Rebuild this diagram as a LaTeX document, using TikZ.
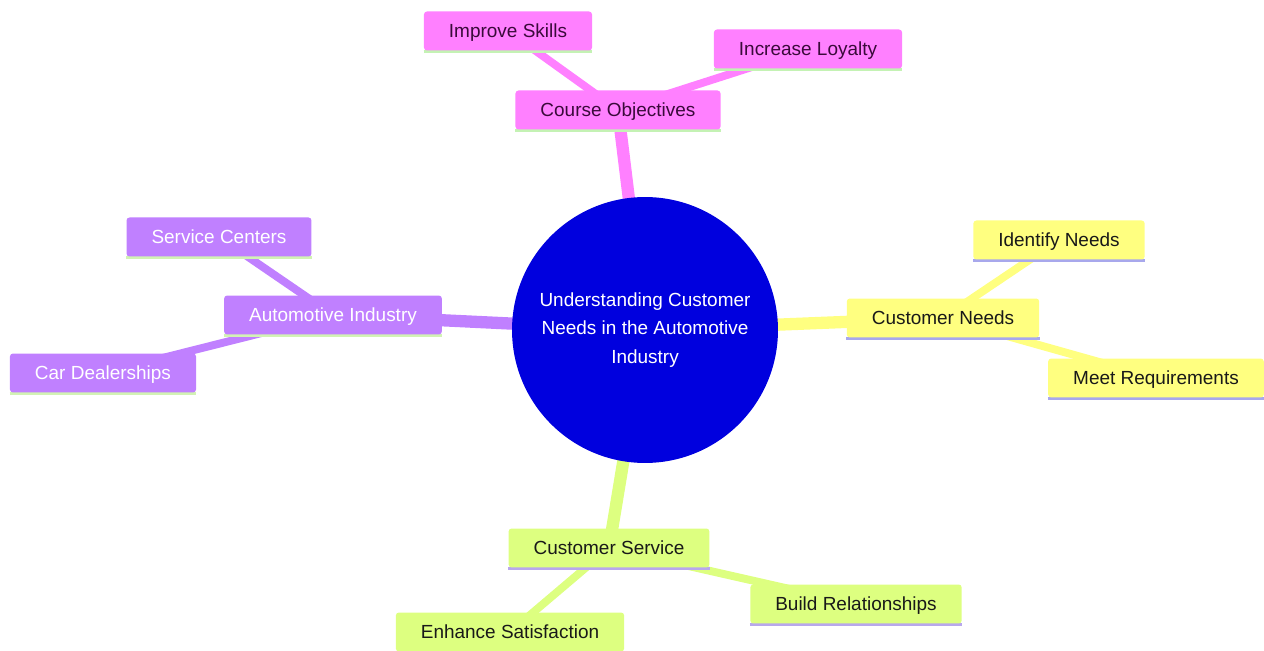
\documentclass[tikz,border=0pt]{standalone}
\usepackage{fontspec}
\setmainfont{Liberation Sans}
\usepackage{tikz}
\usetikzlibrary{backgrounds}
\definecolor{rootblue}{HTML}{0000DE}
\definecolor{pinkbox}{HTML}{FF80FF}
\definecolor{purplebox}{HTML}{C080FF}
\definecolor{yellowbox}{HTML}{FFFF80}
\definecolor{greenbox}{HTML}{DDFF80}
\definecolor{pinkline}{HTML}{C4F2B4}
\definecolor{purpleline}{HTML}{D2F2B4}
\definecolor{yellowline}{HTML}{A8A8EC}
\definecolor{greenline}{HTML}{B8A8EC}
\definecolor{pinktext}{HTML}{3A0A3A}
\tikzstyle{topic} = [rectangle, rounded corners=1.7pt, inner xsep=0.5cm, minimum height=0.78cm, text height=0.72em, text depth=0pt, font=\fontsize{10.8}{13}\selectfont]
\tikzstyle{uline} = [append after command={\pgfextra{\draw[#1, line width=1.7pt] ([yshift=-0.6pt]\tikzlastnode.south west) -- ([yshift=-0.6pt]\tikzlastnode.south east);}}]
\tikzstyle{pinknode} = [topic, fill=pinkbox, text=pinktext, uline=pinkline]
\tikzstyle{purplenode} = [topic, fill=purplebox, text=white, uline=purpleline]
\tikzstyle{yellownode} = [topic, fill=yellowbox, text=black!90, uline=yellowline]
\tikzstyle{greennode} = [topic, fill=greenbox, text=black!90, uline=greenline]
\tikzstyle{trunk} = [line width=7pt]
\tikzstyle{twig} = [line width=4.5pt]

\begin{document}
\begin{tikzpicture}[x=0.02cm, y=-0.02cm]
        \useasboundingbox (0,0) rectangle (1264,651);

        \node[circle, fill=rootblue, text=white, minimum size=5.32cm, inner sep=0pt, align=center,
          font=\fontsize{10.8}{16.4}\selectfont] (root) at (645,330)
          {Understanding Customer\\Needs in the Automotive\\Industry};

        \node[pinknode] (obj) at (618,110) {Course Objectives};
        \node[pinknode] (skills) at (508,31) {Improve Skills};
        \node[pinknode] (loyal) at (808,49) {Increase Loyalty};

        \node[purplenode] (auto) at (333,315) {Automotive Industry};
        \node[purplenode] (centers) at (219,237) {Service Centers};
        \node[purplenode] (dealers) at (103,373) {Car Dealerships};

        \node[yellownode] (needs) at (943,318) {Customer Needs};
        \node[yellownode] (ident) at (1059,240) {Identify Needs};
        \node[yellownode] (meet) at (1156,378) {Meet Requirements};

        \node[greennode] (service) at (609,548) {Customer Service};
        \node[greennode] (relat) at (856,604) {Build Relationships};
        \node[greennode] (satis) at (510,632) {Enhance Satisfaction};

        % Edges - under the nodes
        \begin{scope}[on background layer]
        \draw[trunk, pinkbox] (root.center) -- (obj.center);
        \draw[twig, pinkbox] (obj.center) -- (skills.center);
        \draw[twig, pinkbox] (obj.center) -- (loyal.center);

        \draw[trunk, purplebox] (root.center) -- (auto.center);
        \draw[twig, purplebox] (auto.center) -- (centers.center);
        \draw[twig, purplebox] (auto.center) -- (dealers.center);

        \draw[trunk, yellowbox] (root.center) -- (needs.center);
        \draw[twig, yellowbox] (needs.center) -- (ident.center);
        \draw[twig, yellowbox] (needs.center) -- (meet.center);

        \draw[trunk, greenbox] (root.center) -- (service.center);
        \draw[twig, greenbox] (service.center) -- (relat.center);
        \draw[twig, greenbox] (service.center) -- (satis.center);
        \end{scope}
\end{tikzpicture}
\end{document}
